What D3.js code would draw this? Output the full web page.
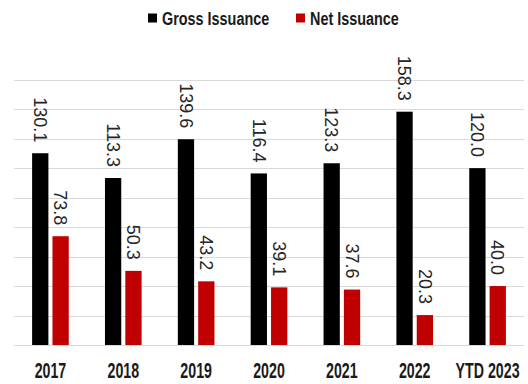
<!DOCTYPE html>
<html>
<head>
<meta charset="utf-8">
<script src="https://cdn.jsdelivr.net/npm/d3@7"></script>
<style>
  html, body { margin: 0; padding: 0; background: #fff; }
  svg { display: block; font-family: "Liberation Sans", Arial, sans-serif; }
</style>
</head>
<body>
<script>
// chart data
var categories = ["2017", "2018", "2019", "2020", "2021", "2022", "YTD 2023"];
var seriesNames = ["Gross Issuance", "Net Issuance"];
var grossValues = [130.1, 113.3, 139.6, 116.4, 123.3, 158.3, 120.0];
var netValues = [73.8, 50.3, 43.2, 39.1, 37.6, 20.3, 40.0];
var yTicks = [0, 20, 40, 60, 80, 100, 120, 140, 160, 180];

var colors = { "Gross Issuance": "#000000", "Net Issuance": "#c00000" };

var width = 528, height = 384;
var plot = { left: 14, right: 524, top: 79.7, bottom: 345 };

var svg = d3.select("body").append("svg")
  .attr("width", width)
  .attr("height", height);

// scales
var x0 = d3.scaleBand()
  .domain(categories)
  .range([plot.left, plot.right])
  .padding(0);

var x1 = d3.scaleBand()
  .domain(seriesNames)
  .range([0, x0.bandwidth()])
  .paddingInner(0.2)
  .paddingOuter(0.89);

var y = d3.scaleLinear()
  .domain([0, 180])
  .range([plot.bottom, plot.top]);

// gridlines
svg.append("g")
  .selectAll("line")
  .data(yTicks)
  .enter().append("line")
  .attr("x1", plot.left)
  .attr("x2", plot.right)
  .attr("y1", function(d) { return Math.round(y(d)) + 0.5; })
  .attr("y2", function(d) { return Math.round(y(d)) + 0.5; })
  .style("stroke", "#d9d9d9")
  .style("stroke-width", 1);

// build rows from the arrays
var rows = categories.map(function(c, i) {
  return { category: c, values: [
    { series: "Gross Issuance", value: grossValues[i] },
    { series: "Net Issuance", value: netValues[i] }
  ]};
});

var groups = svg.append("g")
  .selectAll("g")
  .data(rows)
  .enter().append("g")
  .attr("transform", function(d) { return "translate(" + x0(d.category) + ",0)"; });

groups.selectAll("rect")
  .data(function(d) { return d.values; })
  .enter().append("rect")
  .attr("x", function(d) { return x1(d.series); })
  .attr("y", function(d) { return y(d.value); })
  .attr("width", x1.bandwidth())
  .attr("height", function(d) { return y(0) - y(d.value); })
  .style("fill", function(d) { return colors[d.series]; });

// rotated value labels above the bars
groups.selectAll("text")
  .data(function(d) { return d.values; })
  .enter().append("text")
  .attr("transform", function(d) {
    return "translate(" + (x1(d.series) + x1.bandwidth() / 2) + "," + (y(d.value) - 11) + ") rotate(90)";
  })
  .attr("text-anchor", "end")
  .attr("dy", "0.35em")
  .style("font-size", "18px")
  .style("fill", "#262626")
  .text(function(d) { return d3.format(".1f")(d.value); });

// category labels
svg.append("g")
  .selectAll("text")
  .data(categories)
  .enter().append("text")
  .attr("transform", function(d) {
    return "translate(" + (x0(d) + x0.bandwidth() / 2) + ",378) scale(1,1.5)";
  })
  .attr("text-anchor", "middle")
  .style("font-size", "14.2px")
  .style("font-weight", "bold")
  .style("fill", "#1a1a1a")
  .text(function(d) { return d; });

// legend
var legendX = [148, 296];
var legend = svg.append("g")
  .selectAll("g")
  .data(seriesNames)
  .enter().append("g")
  .attr("transform", function(d, i) { return "translate(" + legendX[i] + ",0)"; });

legend.append("rect")
  .attr("x", 0)
  .attr("y", 13.5)
  .attr("width", 9)
  .attr("height", 9)
  .style("fill", function(d) { return colors[d]; });

legend.append("text")
  .attr("transform", "translate(14,25) scale(1,1.3)")
  .style("font-size", "14.4px")
  .style("font-weight", "bold")
  .style("fill", "#1a1a1a")
  .text(function(d) { return d; });
</script>
</body>
</html>
